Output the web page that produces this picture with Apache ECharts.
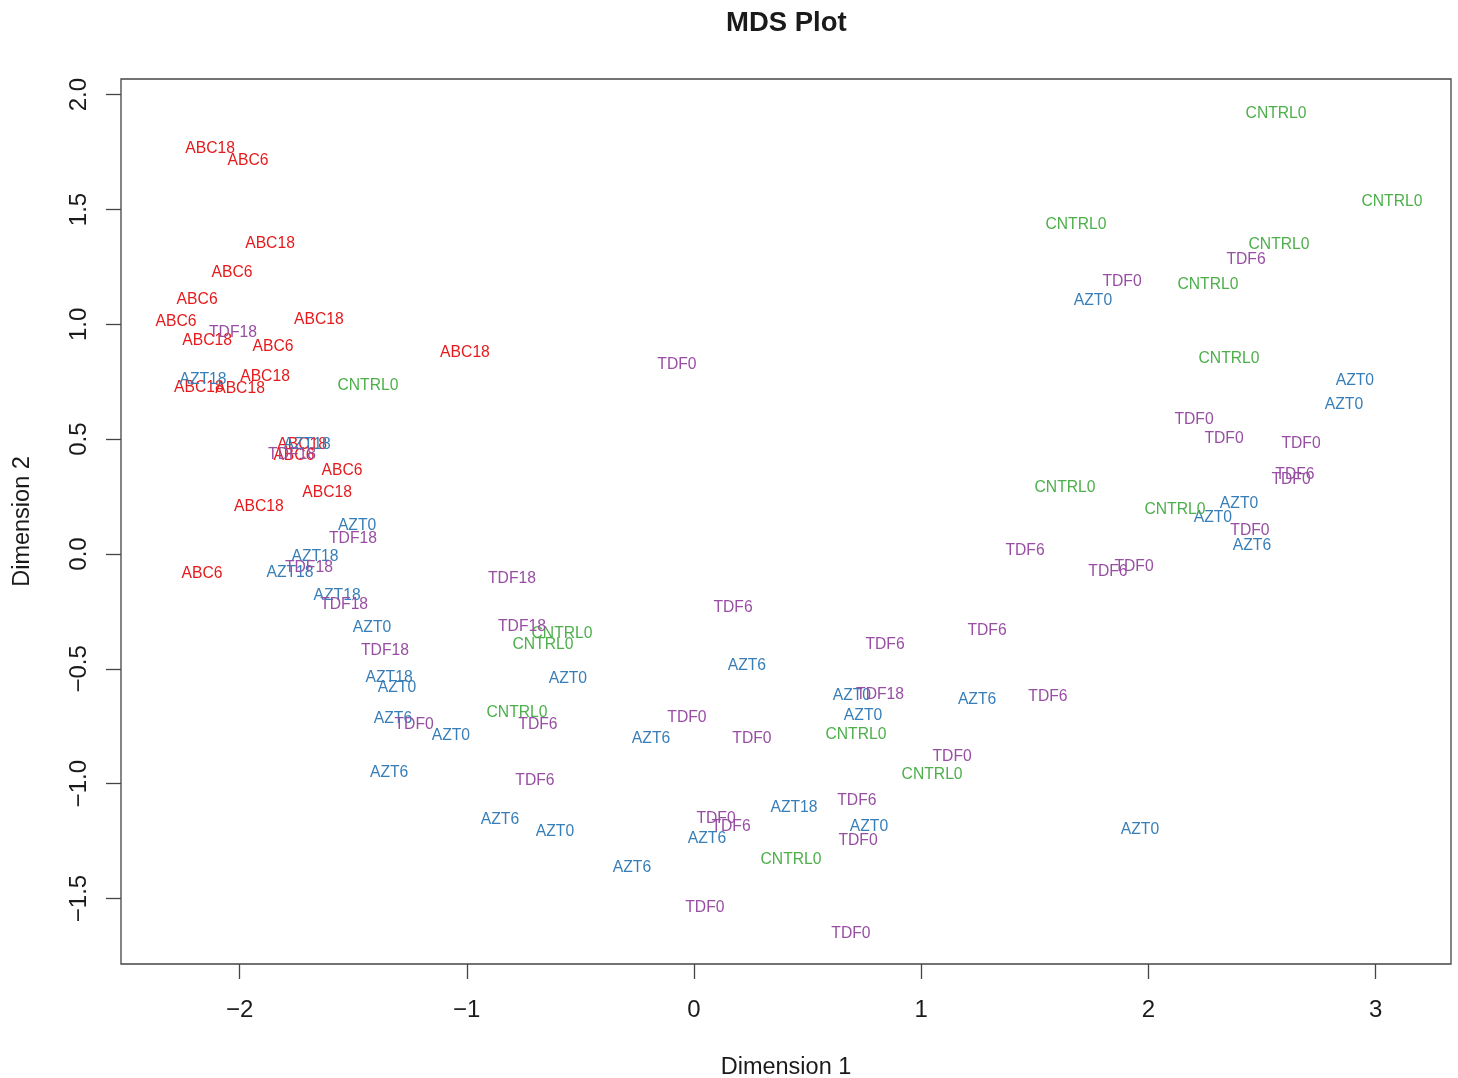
<!DOCTYPE html>
<html>
<head>
<meta charset="utf-8">
<script src="https://cdn.jsdelivr.net/npm/echarts@6/dist/echarts.min.js"></script>
<style>
html,body{margin:0;padding:0;background:#fff;}
#chart{width:1458px;height:1078px;}
</style>
</head>
<body>
<div id="chart"></div>
<script>
// Data: [Dimension 1, Dimension 2, label]
const abcPoints = [
  [-2.130, 1.769, 'ABC18'], [-1.963, 1.717, 'ABC6'], [-1.866, 1.356, 'ABC18'],
  [-2.033, 1.229, 'ABC6'], [-2.187, 1.112, 'ABC6'], [-2.280, 1.016, 'ABC6'],
  [-2.143, 0.933, 'ABC18'], [-1.651, 1.025, 'ABC18'], [-1.853, 0.907, 'ABC6'],
  [-1.008, 0.881, 'ABC18'], [-1.888, 0.777, 'ABC18'], [-2.179, 0.729, 'ABC18'],
  [-1.998, 0.724, 'ABC18'], [-1.725, 0.481, 'ABC18'], [-1.761, 0.433, 'ABC6'],
  [-1.549, 0.367, 'ABC6'], [-1.615, 0.272, 'ABC18'], [-1.915, 0.211, 'ABC18'],
  [-2.165, -0.081, 'ABC6']
];
const aztPoints = [
  [-2.161, 0.764, 'AZT18'], [-1.703, 0.481, 'AZT18'], [-1.483, 0.128, 'AZT0'],
  [-1.668, -0.007, 'AZT18'], [-1.778, -0.077, 'AZT18'], [-1.571, -0.177, 'AZT18'],
  [-1.417, -0.316, 'AZT0'], [-1.342, -0.534, 'AZT18'], [-1.307, -0.577, 'AZT0'],
  [-1.325, -0.712, 'AZT6'], [-1.070, -0.786, 'AZT0'], [-1.342, -0.947, 'AZT6'],
  [-0.854, -1.152, 'AZT6'], [-0.612, -1.204, 'AZT0'], [-0.273, -1.361, 'AZT6'],
  [-0.555, -0.538, 'AZT0'], [-0.189, -0.799, 'AZT6'], [0.057, -1.235, 'AZT6'],
  [0.233, -0.481, 'AZT6'], [0.440, -1.100, 'AZT18'], [0.695, -0.612, 'AZT0'],
  [0.744, -0.699, 'AZT0'], [0.770, -1.182, 'AZT0'], [1.246, -0.630, 'AZT6'],
  [1.963, -1.195, 'AZT0'], [1.756, 1.108, 'AZT0'], [2.909, 0.759, 'AZT0'],
  [2.861, 0.655, 'AZT0'], [2.399, 0.224, 'AZT0'], [2.284, 0.163, 'AZT0'],
  [2.456, 0.041, 'AZT6']
];
const cntrlPoints = [
  [-1.435, 0.737, 'CNTRL0'], [-0.581, -0.342, 'CNTRL0'], [-0.665, -0.390, 'CNTRL0'],
  [-0.779, -0.686, 'CNTRL0'], [0.713, -0.782, 'CNTRL0'], [1.048, -0.956, 'CNTRL0'],
  [0.427, -1.326, 'CNTRL0'], [1.633, 0.293, 'CNTRL0'], [2.117, 0.198, 'CNTRL0'],
  [2.562, 1.922, 'CNTRL0'], [3.072, 1.539, 'CNTRL0'], [1.681, 1.438, 'CNTRL0'],
  [2.575, 1.351, 'CNTRL0'], [2.262, 1.177, 'CNTRL0'], [2.355, 0.855, 'CNTRL0']
];
const tdfPoints = [
  [-2.029, 0.968, 'TDF18'], [-1.769, 0.437, 'TDF18'], [-1.501, 0.071, 'TDF18'],
  [-1.695, -0.055, 'TDF18'], [-1.540, -0.216, 'TDF18'], [-1.360, -0.416, 'TDF18'],
  [-0.801, -0.103, 'TDF18'], [-0.757, -0.312, 'TDF18'], [-1.232, -0.738, 'TDF0'],
  [-0.687, -0.738, 'TDF6'], [-0.700, -0.982, 'TDF6'], [0.172, -0.229, 'TDF6'],
  [-0.075, 0.829, 'TDF0'], [-0.031, -0.708, 'TDF0'], [0.255, -0.799, 'TDF0'],
  [0.097, -1.148, 'TDF0'], [0.163, -1.182, 'TDF6'], [0.048, -1.535, 'TDF0'],
  [0.691, -1.648, 'TDF0'], [0.722, -1.243, 'TDF0'], [0.717, -1.069, 'TDF6'],
  [0.819, -0.608, 'TDF18'], [0.841, -0.390, 'TDF6'], [1.290, -0.329, 'TDF6'],
  [1.558, -0.616, 'TDF6'], [1.136, -0.878, 'TDF0'], [1.457, 0.019, 'TDF6'],
  [1.822, -0.072, 'TDF6'], [1.937, -0.050, 'TDF0'], [2.447, 0.106, 'TDF0'],
  [2.201, 0.589, 'TDF0'], [2.333, 0.507, 'TDF0'], [2.672, 0.485, 'TDF0'],
  [2.645, 0.350, 'TDF6'], [2.628, 0.328, 'TDF0'], [2.430, 1.286, 'TDF6'],
  [1.884, 1.190, 'TDF0']
];
const xTicks = [-2, -1, 0, 1, 2, 3];
const yTicks = [-1.5, -1.0, -0.5, 0.0, 0.5, 1.0, 1.5, 2.0];
const xRange = [-2.522, 3.332];
const yRange = [-1.785, 2.068];

const FONT = '"Liberation Sans", Arial, Helvetica, sans-serif';
const groups = [
  { name: 'ABC', data: abcPoints, color: '#E41A1C' },
  { name: 'AZT', data: aztPoints, color: '#377EB8' },
  { name: 'CNTRL', data: cntrlPoints, color: '#4DAF4A' },
  { name: 'TDF', data: tdfPoints, color: '#984EA3' }
];

const chart = echarts.init(document.getElementById('chart'), null, { renderer: 'canvas' });
chart.setOption({
  backgroundColor: '#ffffff',
  animation: false,
  title: {
    text: 'MDS Plot',
    left: 721, top: 4,
    textStyle: { fontFamily: FONT, fontSize: 27.5, fontWeight: 'bold', color: '#1a1a1a' }
  },
  grid: {
    left: 121, right: 7, top: 79, bottom: 114,
    outerBoundsMode: 'none', containLabel: false,
    show: true, borderColor: '#444', borderWidth: 1.3, backgroundColor: 'transparent'
  },
  xAxis: {
    type: 'value', min: xRange[0], max: xRange[1],
    name: 'Dimension 1', nameLocation: 'middle', nameGap: 92,
    nameTextStyle: { fontFamily: FONT, fontSize: 23.5, color: '#1a1a1a' },
    axisLine: { show: false, onZero: false },
    axisTick: { show: true, length: 15, customValues: xTicks, lineStyle: { color: '#444', width: 1.3 } },
    axisLabel: {
      customValues: xTicks, margin: 34, fontFamily: FONT, fontSize: 24, color: '#1a1a1a',
      formatter: v => String(v).replace('-', '\u2212')
    },
    splitLine: { show: false }
  },
  yAxis: {
    type: 'value', min: yRange[0], max: yRange[1],
    name: 'Dimension 2', nameLocation: 'middle', nameGap: 86,
    nameTextStyle: { fontFamily: FONT, fontSize: 23.5, color: '#1a1a1a' },
    axisLine: { show: false, onZero: false },
    axisTick: { show: true, length: 15, customValues: yTicks, lineStyle: { color: '#444', width: 1.3 } },
    axisLabel: {
      customValues: yTicks, margin: 30, rotate: 90, fontFamily: FONT, fontSize: 24, color: '#1a1a1a',
      formatter: v => v.toFixed(1).replace('-', '\u2212')
    },
    splitLine: { show: false }
  },
  series: groups.map(g => ({
    type: 'scatter',
    name: g.name,
    symbolSize: 0,
    silent: true,
    itemStyle: { color: g.color, opacity: 0 },
    label: {
      show: true, position: 'inside', align: 'center', verticalAlign: 'middle',
      offset: [0, 1],
      fontFamily: FONT, fontSize: 15.7, color: g.color, opacity: 1,
      textBorderWidth: 0,
      formatter: p => p.value[2]
    },
    emphasis: { disabled: true },
    data: g.data.map(d => ({ value: d }))
  }))
});
</script>
</body>
</html>
